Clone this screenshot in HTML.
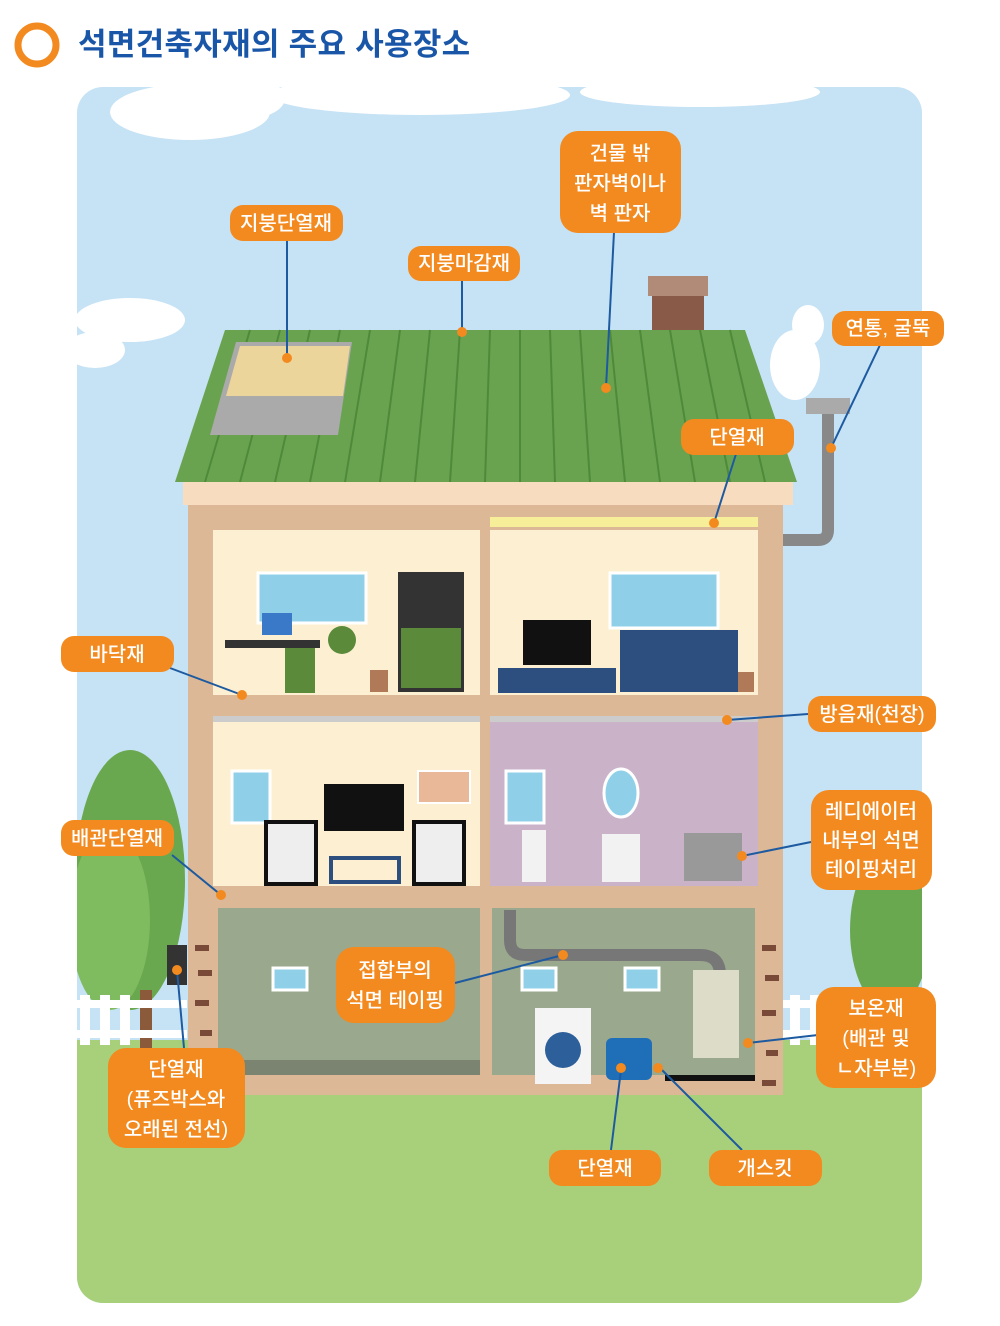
<!DOCTYPE html>
<html><head><meta charset="utf-8"><style>
html,body{margin:0;padding:0;background:#fff;width:1000px;height:1326px;overflow:hidden}
svg{display:block}
text{font-family:"Liberation Sans","Noto Sans CJK KR",sans-serif}
.lb{fill:#f28a1f}
.lt{fill:#fff;font-size:20px;font-weight:500;text-anchor:middle}
.ln{stroke:#1d5aa0;stroke-width:2;fill:none}
.dot{fill:#f28a1f}
</style></head><body>
<svg width="1000" height="1326" viewBox="0 0 1000 1326">
<circle cx="37" cy="45" r="19" fill="none" stroke="#f28a1f" stroke-width="7"/>
<text x="78" y="55" font-size="31" font-weight="bold" fill="#1a56a8" letter-spacing="0.3">석면건축자재의 주요 사용장소</text>
<defs><clipPath id="pc"><rect x="77" y="87" width="845" height="1216" rx="26"/></clipPath></defs>
<g clip-path="url(#pc)">
<rect x="77" y="87" width="845" height="1216" fill="#c6e2f5"/>
<g fill="#fff">
<ellipse cx="190" cy="112" rx="80" ry="28"/><ellipse cx="250" cy="98" rx="35" ry="20"/>
<ellipse cx="420" cy="95" rx="150" ry="20"/><ellipse cx="700" cy="92" rx="120" ry="15"/>
<ellipse cx="130" cy="320" rx="55" ry="22"/><ellipse cx="95" cy="350" rx="30" ry="18"/>
<ellipse cx="795" cy="365" rx="25" ry="35"/><ellipse cx="808" cy="325" rx="16" ry="20"/>
</g>
<rect x="77" y="1040" width="845" height="263" fill="#a8d07a"/>
<ellipse cx="130" cy="880" rx="55" ry="130" fill="#6aa84f"/>
<ellipse cx="110" cy="920" rx="40" ry="90" fill="#7fbb5f"/>
<rect x="140" y="990" width="12" height="60" fill="#8a5a3a"/>
<ellipse cx="890" cy="930" rx="40" ry="80" fill="#6aa84f"/>
<g fill="#fff"><rect x="77" y="1000" width="110" height="8"/><rect x="77" y="1030" width="110" height="8"/>
<rect x="80" y="995" width="10" height="50"/><rect x="100" y="995" width="10" height="50"/><rect x="120" y="995" width="10" height="50"/>
<rect x="780" y="1000" width="142" height="8"/><rect x="780" y="1030" width="142" height="8"/>
<rect x="790" y="995" width="10" height="50"/><rect x="810" y="995" width="10" height="50"/><rect x="900" y="995" width="10" height="50"/></g>
</g>
<rect x="652" y="292" width="52" height="40" fill="#8a5a48"/><rect x="648" y="276" width="60" height="20" fill="#b28a78"/>
<path d="M828 410 V530 Q828 540 818 540 H783" stroke="#888" stroke-width="12" fill="none"/>
<rect x="806" y="398" width="44" height="16" fill="#aaa"/>
<polygon points="225,330 745,330 797,482 175,482" fill="#6aa350"/>
<g stroke="#4e8a3a" stroke-width="2">
<line x1="250" y1="330" x2="205" y2="482"/><line x1="280" y1="330" x2="240" y2="482"/><line x1="310" y1="330" x2="275" y2="482"/><line x1="340" y1="330" x2="310" y2="482"/><line x1="370" y1="330" x2="345" y2="482"/><line x1="400" y1="330" x2="380" y2="482"/><line x1="430" y1="330" x2="415" y2="482"/><line x1="460" y1="330" x2="450" y2="482"/><line x1="490" y1="330" x2="485" y2="482"/><line x1="520" y1="330" x2="520" y2="482"/><line x1="550" y1="330" x2="555" y2="482"/><line x1="580" y1="330" x2="590" y2="482"/><line x1="610" y1="330" x2="625" y2="482"/><line x1="640" y1="330" x2="660" y2="482"/><line x1="670" y1="330" x2="695" y2="482"/><line x1="700" y1="330" x2="730" y2="482"/><line x1="730" y1="330" x2="765" y2="482"/>
</g>
<polygon points="236,342 352,342 338,435 210,435" fill="#aaa"/>
<polygon points="240,346 350,346 343,396 226,396" fill="#ecd59a"/>
<rect x="183" y="482" width="610" height="23" fill="#f8dcc0"/>
<rect x="188" y="505" width="595" height="590" fill="#dcb896"/>
<rect x="213" y="530" width="267" height="165" fill="#fdf0d2"/>
<rect x="490" y="530" width="268" height="165" fill="#fdf0d2"/>
<rect x="490" y="517" width="268" height="10" fill="#f7ee9a"/>
<rect x="213" y="716" width="267" height="170" fill="#fdf0d2"/>
<rect x="490" y="716" width="268" height="170" fill="#cab3c8"/>
<rect x="213" y="716" width="267" height="6" fill="#ccc"/><rect x="490" y="716" width="268" height="6" fill="#ccc"/>
<rect x="218" y="908" width="262" height="167" fill="#9aa88e"/>
<rect x="492" y="908" width="263" height="167" fill="#9aa88e"/>
<rect x="218" y="1060" width="262" height="15" fill="#7a8470"/>
<g fill="#8fd0e8" stroke="#fff" stroke-width="3">
<rect x="258" y="573" width="108" height="50"/><rect x="610" y="573" width="108" height="55"/>
<rect x="232" y="771" width="38" height="52"/><rect x="506" y="771" width="38" height="52"/>
<rect x="273" y="968" width="34" height="22"/><rect x="522" y="968" width="34" height="22"/><rect x="625" y="968" width="34" height="22"/>
</g>
<ellipse cx="621" cy="793" rx="17" ry="24" fill="#8fd0e8" stroke="#fff" stroke-width="3"/>
<rect x="225" y="640" width="95" height="8" fill="#333"/><rect x="262" y="613" width="30" height="22" fill="#3a78c8"/>
<rect x="285" y="648" width="30" height="45" fill="#5a8a3a"/>
<circle cx="342" cy="640" r="14" fill="#5a8a3a"/>
<rect x="398" y="572" width="66" height="120" fill="#333"/><rect x="401" y="628" width="60" height="60" fill="#5a8a3a"/>
<rect x="523" y="620" width="68" height="45" fill="#111"/>
<rect x="498" y="668" width="118" height="25" fill="#2d4f80"/>
<rect x="620" y="630" width="118" height="62" fill="#2d4f80"/>
<rect x="370" y="670" width="18" height="22" fill="#b07a58"/><rect x="738" y="672" width="16" height="20" fill="#b07a58"/>
<rect x="324" y="784" width="80" height="47" fill="#111"/>
<rect x="266" y="822" width="50" height="62" fill="#eee" stroke="#111" stroke-width="4"/>
<rect x="414" y="822" width="50" height="62" fill="#eee" stroke="#111" stroke-width="4"/>
<rect x="331" y="858" width="68" height="24" fill="none" stroke="#2d4f80" stroke-width="4"/>
<rect x="418" y="771" width="52" height="32" fill="#e8b898" stroke="#fff" stroke-width="2"/>
<rect x="522" y="830" width="24" height="52" fill="#f2f2f2"/>
<rect x="602" y="834" width="38" height="48" fill="#f2f2f2"/>
<rect x="684" y="833" width="58" height="48" fill="#999"/>
<path d="M510 910 V940 Q510 955 525 955 H700 Q720 955 720 975" stroke="#777" stroke-width="12" fill="none"/>
<rect x="535" y="1008" width="56" height="76" fill="#f4f4f4"/><circle cx="563" cy="1050" r="18" fill="#2d5f9a"/>
<rect x="606" y="1038" width="46" height="42" rx="6" fill="#1f6fb8"/>
<rect x="693" y="970" width="46" height="88" fill="#dcdcc8"/>
<rect x="665" y="1075" width="90" height="6" fill="#111"/>
<g fill="#7a4a38"><rect x="195" y="945" width="14" height="6"/><rect x="198" y="970" width="14" height="6"/><rect x="195" y="1000" width="14" height="6"/><rect x="200" y="1030" width="12" height="6"/><rect x="762" y="945" width="14" height="6"/><rect x="765" y="975" width="14" height="6"/><rect x="762" y="1010" width="14" height="6"/><rect x="766" y="1050" width="12" height="6"/><rect x="762" y="1080" width="14" height="6"/></g>
<rect x="167" y="945" width="20" height="40" fill="#333"/>
<g class="ln">
<line x1="287" y1="240" x2="287" y2="358"/>
<line x1="462" y1="280" x2="462" y2="332"/>
<line x1="614" y1="232" x2="606" y2="388"/>
<line x1="880" y1="345" x2="831" y2="448"/>
<line x1="736" y1="454" x2="714" y2="523"/>
<line x1="170" y1="668" x2="242" y2="695"/>
<line x1="808" y1="714" x2="727" y2="720"/>
<line x1="811" y1="842" x2="742" y2="856"/>
<line x1="172" y1="855" x2="221" y2="895"/>
<line x1="455" y1="983" x2="563" y2="955"/>
<line x1="818" y1="1035" x2="748" y2="1043"/>
<line x1="177" y1="970" x2="184" y2="1048"/>
<line x1="621" y1="1070" x2="611" y2="1150"/>
<line x1="660" y1="1068" x2="742" y2="1150"/>
</g>
<g class="dot">
<circle cx="287" cy="358" r="5"/><circle cx="462" cy="332" r="5"/><circle cx="606" cy="388" r="5"/><circle cx="831" cy="448" r="5"/><circle cx="714" cy="523" r="5"/><circle cx="242" cy="695" r="5"/><circle cx="727" cy="720" r="5"/><circle cx="742" cy="856" r="5"/><circle cx="221" cy="895" r="5"/><circle cx="563" cy="955" r="5"/><circle cx="748" cy="1043" r="5"/><circle cx="177" cy="970" r="5"/><circle cx="621" cy="1068" r="5"/><circle cx="658" cy="1068" r="5"/>
</g>
<rect class="lb" x="230" y="205" width="113" height="36" rx="13"/><text class="lt" x="286" y="230">지붕단열재</text>
<rect class="lb" x="408" y="246" width="112" height="35" rx="13"/><text class="lt" x="464" y="270">지붕마감재</text>
<rect class="lb" x="560" y="131" width="121" height="102" rx="18"/><text class="lt" x="620" y="160">건물 밖</text><text class="lt" x="620" y="190">판자벽이나</text><text class="lt" x="620" y="220">벽 판자</text>
<rect class="lb" x="832" y="311" width="112" height="35" rx="13"/><text class="lt" x="888" y="335">연통, 굴뚝</text>
<rect class="lb" x="681" y="419" width="113" height="36" rx="13"/><text class="lt" x="737" y="444">단열재</text>
<rect class="lb" x="61" y="636" width="113" height="36" rx="13"/><text class="lt" x="117" y="661">바닥재</text>
<rect class="lb" x="808" y="696" width="128" height="36" rx="13"/><text class="lt" x="872" y="721">방음재(천장)</text>
<rect class="lb" x="811" y="790" width="121" height="100" rx="18"/><text class="lt" x="871" y="818">레디에이터</text><text class="lt" x="871" y="847">내부의 석면</text><text class="lt" x="871" y="876">테이핑처리</text>
<rect class="lb" x="61" y="820" width="113" height="36" rx="13"/><text class="lt" x="117" y="845">배관단열재</text>
<rect class="lb" x="336" y="947" width="119" height="76" rx="18"/><text class="lt" x="395" y="977">접합부의</text><text class="lt" x="395" y="1007">석면 테이핑</text>
<rect class="lb" x="816" y="987" width="120" height="101" rx="18"/><text class="lt" x="876" y="1015">보온재</text><text class="lt" x="876" y="1045">(배관 및</text><text class="lt" x="876" y="1075">ㄴ자부분)</text>
<rect class="lb" x="108" y="1048" width="137" height="100" rx="18"/><text class="lt" x="176" y="1076">단열재</text><text class="lt" x="176" y="1106">(퓨즈박스와</text><text class="lt" x="176" y="1136">오래된 전선)</text>
<rect class="lb" x="549" y="1150" width="112" height="36" rx="13"/><text class="lt" x="605" y="1175">단열재</text>
<rect class="lb" x="709" y="1150" width="113" height="36" rx="13"/><text class="lt" x="765" y="1175">개스킷</text>
</svg>
</body></html>
